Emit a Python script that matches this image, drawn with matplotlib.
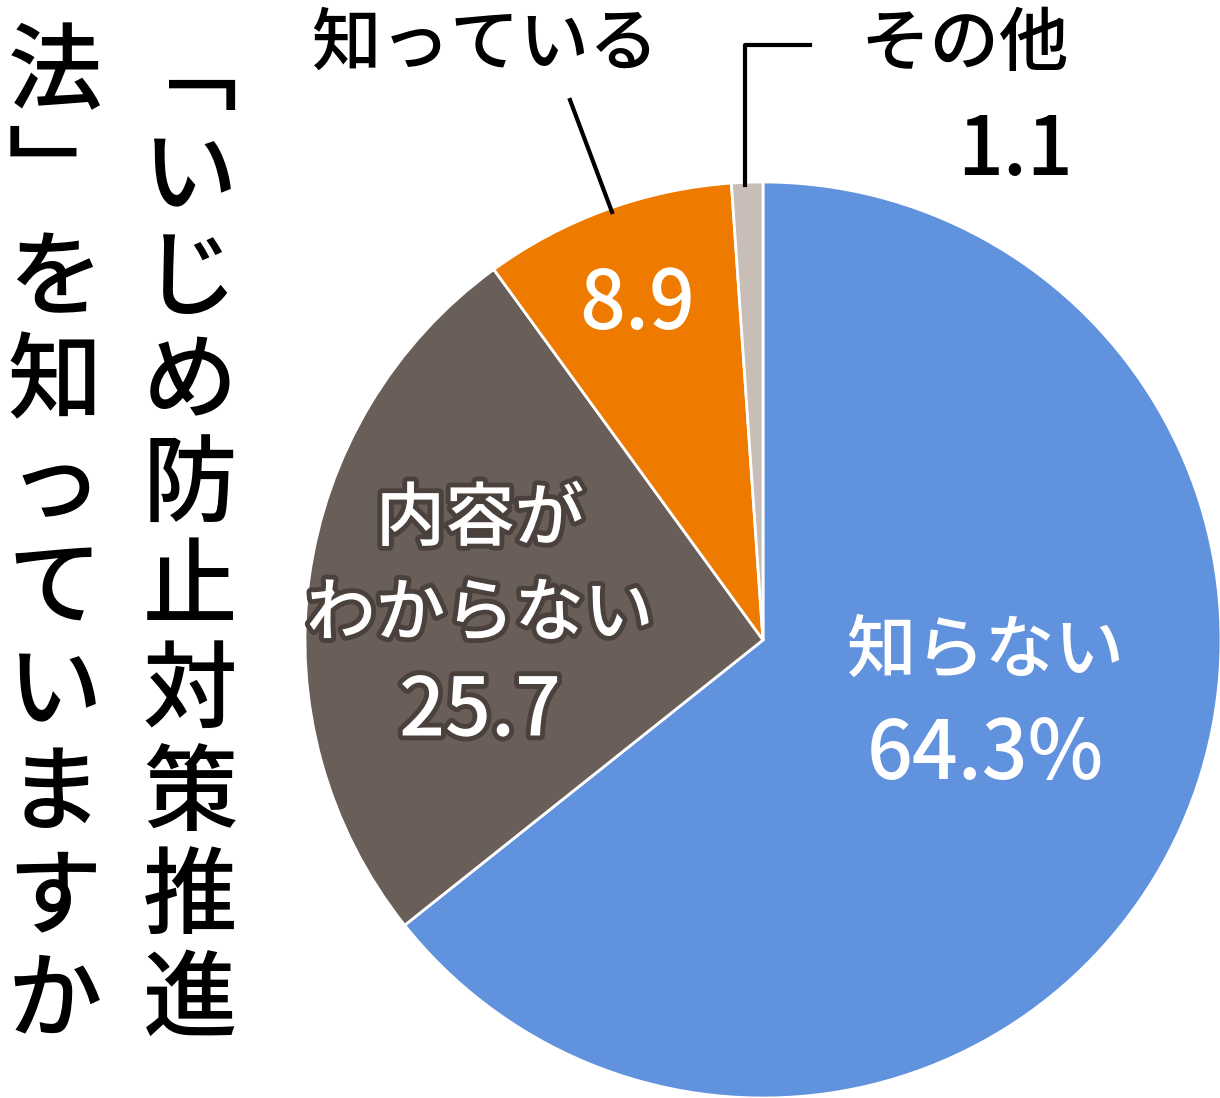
import matplotlib.pyplot as plt
import matplotlib.patheffects as pe

plt.rcParams['font.family'] = ['Noto Sans CJK JP', 'DejaVu Sans']

labels = ['知らない', '内容がわからない', '知っている', 'その他']
values = [64.3, 25.7, 8.9, 1.1]
colors = ['#6192DE', '#6A5E59', '#EE7B00', '#C9BDB7']
title_cols = ['﹁いじめ防止対策推進', '法﹂を知っていますか']

W, H = 1220, 1098
fig = plt.figure(figsize=(W / 100, H / 100), dpi=100)

cx, cy, r = 763, 640, 458
ax = fig.add_axes([(cx - r) / W, (H - cy - r) / H, 2 * r / W, 2 * r / H])
ax.pie(values, colors=colors, startangle=90, counterclock=False,
       wedgeprops=dict(edgecolor='white', linewidth=2))
ax.set_xlim(-1, 1)
ax.set_ylim(-1, 1)
ax.set_aspect('equal')
ax.axis('off')


def txt(x, y, s, size, color='black', **kw):
    fig.text(x / W, 1 - y / H, s, fontsize=size, color=color,
             ha='center', va='center', fontweight='medium', **kw)


# vertical title
for col, x in zip(title_cols, [190, 55]):
    for i, ch in enumerate(col):
        txt(x, 75 + i * 103, ch, 68)

# inside labels
txt(985, 652, '知らない', 50, 'white')
txt(985, 755, '64.3%', 58, 'white')
outline = [pe.withStroke(linewidth=7, foreground='#4A403C')]
txt(480, 520, '内容が', 50, 'white', path_effects=outline)
txt(480, 615, 'わからない', 50, 'white', path_effects=outline)
txt(480, 712, '25.7', 58, 'white', path_effects=outline)
txt(637, 305, '8.9', 58, 'white')

# outside labels
txt(485, 45, '知っている', 50)
txt(965, 45, 'その他', 50)
txt(1015, 152, '1.1', 58)

# leader lines
fig.add_artist(plt.Line2D([612 / W, 570 / W], [1 - 212 / H, 1 - 100 / H],
                          color='black', lw=3))
fig.add_artist(plt.Line2D([745 / W, 745 / W, 810 / W],
                          [1 - 185 / H, 1 - 45 / H, 1 - 45 / H],
                          color='black', lw=3))

fig.savefig('out.png', dpi=100)
